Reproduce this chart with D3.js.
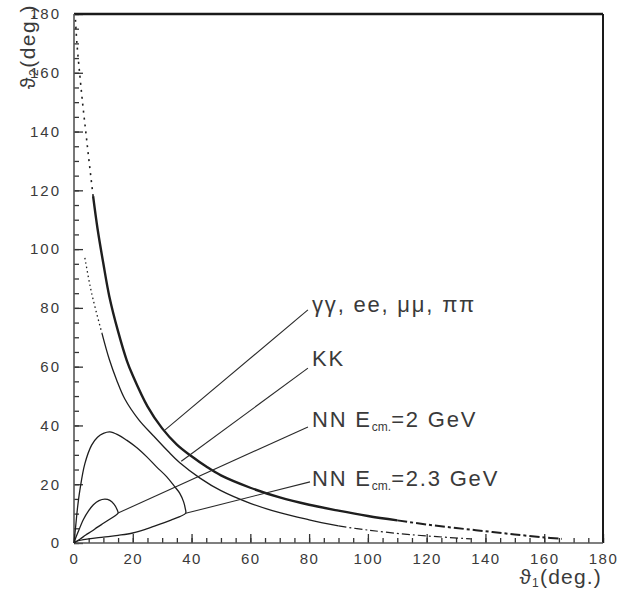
<!DOCTYPE html>
<html>
<head>
<meta charset="utf-8">
<script src="https://cdn.jsdelivr.net/npm/d3@7"></script>
<style>
  html, body { margin: 0; padding: 0; background: #fff; }
  svg { display: block; }
  text { font-family: 'Liberation Sans', Arial, sans-serif; fill: #3a3a3a; }
</style>
</head>
<body>
<div id="chart"></div>
<script>
// theta1 / theta2 pairs (deg.)
const gammaGamma = [[0.5,178],[1,170],[2,159],[3,149],[4,140],[5,131],[6.5,118],[8,107],[10,95],[12,84],[15,72],[18,62],[20,57],[25,46.5],[30,39],[35,33.5],[40,29.5],[45,26],[50,23],[60,18.8],[70,15.5],[80,13],[90,11],[100,9.2],[110,7.7],[120,6.3],[130,5.1],[140,4],[150,2.9],[160,1.9],[166,1.4]]
const kaonKaon = [[3.7,97],[6,85],[9.5,71.4],[12,62.5],[14.5,55.5],[17.3,49],[22,42],[27,36.5],[32,31.2],[36,27.3],[43,22],[50,17.8],[60,13.5],[70,10.3],[80,7.9],[90,5.8],[100,4.4],[115,2.8],[135,1.4]]
const nn2GeV = [[0,0],[0.5,1.5],[1.5,4],[3.2,8],[5,11],[6.6,13],[8.5,14.4],[10.5,14.9],[12.2,14.5],[13.6,13.2],[14.6,11.5],[15,10.2],[14,9.3],[12,8],[10,6.7],[8,5.4],[6,4],[4,2.7],[2,1.3],[0,0]]
const nn23GeV = [[0,0],[0.6,6],[1.2,12],[2,18],[3.7,27],[6,33.3],[8,36],[10,37.3],[12.2,37.8],[15,36.8],[17.9,35],[21.3,32.5],[24.7,29.4],[28,26],[31.5,22.6],[34,19.5],[36,16.9],[37.3,14],[37.8,12],[38,10.1],[36,9],[33,7.8],[29,6.3],[25,4.9],[20,3.4],[15,2.6],[10,2],[5,1.4],[1,0.6],[0,0]]

const majorTicks = [0, 20, 40, 60, 80, 100, 120, 140, 160, 180]
const minorTicks = d3.range(0, 181, 5)

// label text parts: [main, subscript, rest]
const labelTexts = [
  ['γγ, ee, μμ, ππ', '', ''],
  ['KK', '', ''],
  ['NN E', 'cm.', '=2 GeV'],
  ['NN E', 'cm.', '=2.3 GeV']
]
// where each leader line touches its curve
const leaderStarts = [[31, 38.5], [36.5, 27.8], [15, 10.2], [38, 10.1]]

const width = 618
const height = 592

const svg = d3.select('#chart')
  .append('svg')
  .attr('width', width)
  .attr('height', height)

const x = d3.scaleLinear().domain([0, 180]).range([74, 603])
const y = d3.scaleLinear().domain([0, 180]).range([543, 14])

const line = d3.line()
  .x(d => x(d[0]))
  .y(d => y(d[1]))
  .curve(d3.curveCatmullRom)

// ticks, pointing into the frame
svg.append('g')
  .attr('transform', `translate(0,${y(0)})`)
  .call(d3.axisBottom(x).tickValues(minorTicks).tickSize(-5).tickFormat(''))
  .call(g => g.select('.domain').remove())
svg.append('g')
  .attr('transform', `translate(0,${y(0)})`)
  .call(d3.axisBottom(x).tickValues(majorTicks).tickSize(-9).tickPadding(10))
  .call(g => g.select('.domain').remove())
  .selectAll('text')
  .attr('font-size', 15)
  .attr('letter-spacing', 1.5)
  .attr('font-family', "'Liberation Sans', Arial, sans-serif")
svg.append('g')
  .attr('transform', `translate(${x(0)},0)`)
  .call(d3.axisLeft(y).tickValues(minorTicks).tickSize(-5).tickFormat(''))
  .call(g => g.select('.domain').remove())
svg.append('g')
  .attr('transform', `translate(${x(0)},0)`)
  .call(d3.axisLeft(y).tickValues(majorTicks).tickSize(-9).tickPadding(13))
  .call(g => g.select('.domain').remove())
  .selectAll('text')
  .attr('font-size', 15)
  .attr('letter-spacing', 2)
  .attr('font-family', "'Liberation Sans', Arial, sans-serif")

svg.selectAll('.tick line').attr('stroke', '#333').attr('stroke-width', 1.3)
svg.selectAll('.tick text').attr('fill', '#3a3a3a')

// frame
svg.append('line').attr('x1', x(0)).attr('x2', x(180)).attr('y1', y(180)).attr('y2', y(180))
  .attr('stroke', '#1a1a1a').attr('stroke-width', 2.5)
svg.append('line').attr('x1', x(180)).attr('x2', x(180)).attr('y1', y(180)).attr('y2', y(0))
  .attr('stroke', '#1a1a1a').attr('stroke-width', 2)
svg.append('line').attr('x1', x(0)).attr('x2', x(0)).attr('y1', y(180)).attr('y2', y(0))
  .attr('stroke', '#555').attr('stroke-width', 1.6)
svg.append('line').attr('x1', x(0)).attr('x2', x(180)).attr('y1', y(0)).attr('y2', y(0))
  .attr('stroke', '#555').attr('stroke-width', 1.6)

const curves = svg.append('g').attr('fill', 'none').attr('stroke', '#1e1e1e')

// gamma gamma: sparse near the axis, thick in the middle, dash-dot tail
curves.append('path').datum(gammaGamma.filter(d => d[0] <= 6.5))
  .attr('d', line).attr('stroke-width', 1.6).attr('stroke-dasharray', '2,5')
curves.append('path').datum(gammaGamma.filter(d => d[0] >= 6.5 && d[0] <= 110))
  .attr('d', line).attr('stroke-width', 2.4)
curves.append('path').datum(gammaGamma.filter(d => d[0] >= 110))
  .attr('d', line).attr('stroke-width', 2).attr('stroke-dasharray', '10,3,3,3')

curves.append('path').datum(kaonKaon.filter(d => d[0] <= 9.5))
  .attr('d', line).attr('stroke-width', 1.3).attr('stroke-dasharray', '1.5,3')
curves.append('path').datum(kaonKaon.filter(d => d[0] >= 9.5 && d[0] <= 90))
  .attr('d', line).attr('stroke-width', 1.3)
curves.append('path').datum(kaonKaon.filter(d => d[0] >= 90))
  .attr('d', line).attr('stroke-width', 1.2).attr('stroke-dasharray', '8,3,2,3')

curves.append('path').datum(nn2GeV).attr('d', line).attr('stroke-width', 1.3)
curves.append('path').datum(nn23GeV).attr('d', line).attr('stroke-width', 1.3)

// labels with leader lines
const labelX = 81
const labelBase = [78.6, 60.2, 39.5, 19.4]
const leaderEnds = [[79.6, 79.3], [79.6, 59.5], [79.6, 39.5], [80.3, 20.8]]

labelTexts.forEach((t, i) => {
  svg.append('line')
    .attr('x1', x(leaderStarts[i][0])).attr('y1', y(leaderStarts[i][1]))
    .attr('x2', x(leaderEnds[i][0])).attr('y2', y(leaderEnds[i][1]))
    .attr('stroke', '#2a2a2a').attr('stroke-width', 1.1)

  const txt = svg.append('text')
    .attr('x', x(labelX))
    .attr('y', y(labelBase[i]))
    .attr('font-size', 22)
    .attr('letter-spacing', 1.8)
  txt.append('tspan').text(t[0])
  if (t[1]) {
    txt.append('tspan').attr('font-size', 12).attr('dy', 4).attr('letter-spacing', 0).text(t[1])
    txt.append('tspan').attr('dy', -4).text(t[2])
  }
})

// axis titles
const xt = svg.append('text')
  .attr('x', 602).attr('y', 584)
  .attr('text-anchor', 'end')
  .attr('font-size', 21)
  .attr('letter-spacing', 1.2)
xt.append('tspan').text('ϑ')
xt.append('tspan').attr('font-size', 12).attr('dy', 3).text('1')
xt.append('tspan').attr('dy', -3).text('(deg.)')

const yt = svg.append('text')
  .attr('transform', 'translate(35,4) rotate(-90)')
  .attr('text-anchor', 'end')
  .attr('font-size', 21)
  .attr('letter-spacing', 1.5)
yt.append('tspan').text('ϑ')
yt.append('tspan').attr('font-size', 12).attr('dy', 3).text('2')
yt.append('tspan').attr('dy', -3).text('(deg.)')
</script>
</body>
</html>
